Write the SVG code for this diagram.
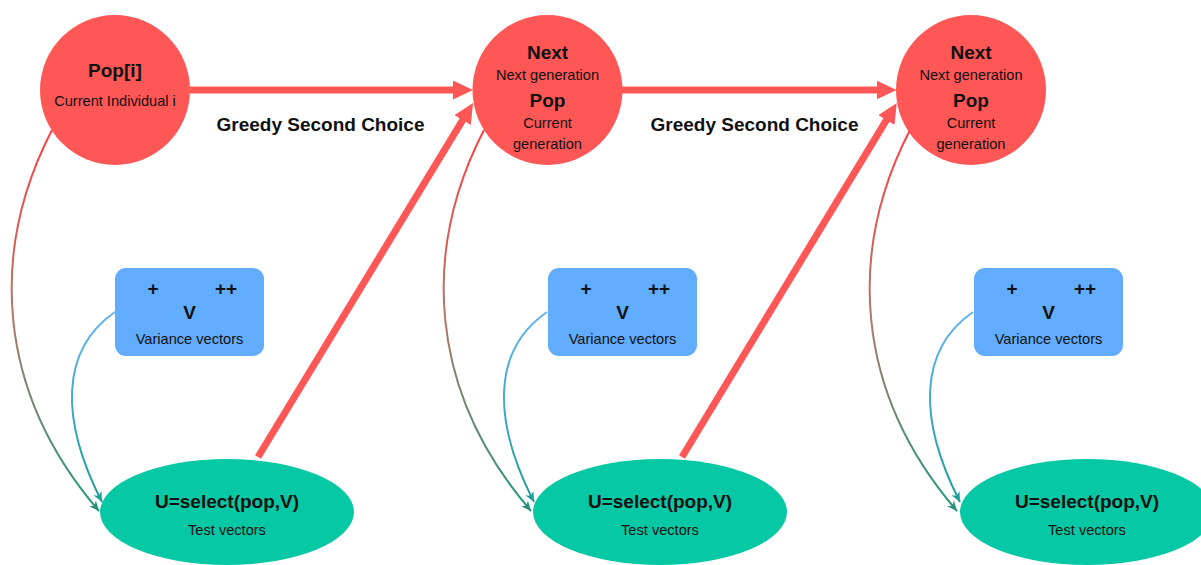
<svg xmlns="http://www.w3.org/2000/svg" width="1201" height="565" viewBox="0 0 1201 565">
  <defs>
    <style>
      .pop { fill: #ff5656; }
      .var { fill: #61acfc; }
      .test { fill: #07c8a4; }
      .b { font-family: "Liberation Sans", Arial, sans-serif; font-weight: bold; font-size: 19px; fill: #111; text-anchor: middle; }
      .r { font-family: "Liberation Sans", Arial, sans-serif; font-size: 14.6px; fill: #111; text-anchor: middle; }
      .thick { stroke: #ff5656; stroke-width: 7; fill: none; marker-end: url(#bigHead); }
      .popLink { stroke: url(#popGrad); stroke-width: 2; fill: none; marker-end: url(#smallHead); }
      .varLink { stroke: url(#varGrad); stroke-width: 2; fill: none; marker-end: url(#smallHead2); }
    </style>
    <marker id="bigHead" markerUnits="userSpaceOnUse" markerWidth="22" markerHeight="20" refX="7" refY="9.5" orient="auto">
      <path d="M0,0 L20,9.5 L0,19 Z" fill="#ff5656"/>
    </marker>
    <marker id="smallHead" markerUnits="userSpaceOnUse" markerWidth="12" markerHeight="10" refX="10" refY="4.5" orient="auto">
      <path d="M0,0 L10,4.5 L0,9 L3,4.5 Z" fill="#2a8f7a"/>
    </marker>
    <marker id="smallHead2" markerUnits="userSpaceOnUse" markerWidth="12" markerHeight="10" refX="10" refY="4.5" orient="auto">
      <path d="M0,0 L10,4.5 L0,9 L3,4.5 Z" fill="#1c9e96"/>
    </marker>
    <linearGradient id="popGrad" gradientUnits="userSpaceOnUse" x1="0" y1="130" x2="0" y2="512">
      <stop offset="0" stop-color="#ff4040"/>
      <stop offset="0.5" stop-color="#b07868"/>
      <stop offset="1" stop-color="#1f9a80"/>
    </linearGradient>
    <linearGradient id="varGrad" gradientUnits="userSpaceOnUse" x1="0" y1="312" x2="0" y2="503">
      <stop offset="0" stop-color="#62b2f4"/>
      <stop offset="1" stop-color="#1a9e98"/>
    </linearGradient>
  </defs>

  <!-- connectors -->
  <g id="connectors">
    <!-- greedy selection to the next population -->
    <line class="thick" x1="190" y1="90" x2="460" y2="90"/>
    <line class="thick" x1="622" y1="90" x2="883.5" y2="90"/>
    <line class="thick" x1="258" y1="457" x2="466.3" y2="114.1"/>
    <line class="thick" x1="682" y1="457" x2="890" y2="114.1"/>

    <!-- population and variance feeding test vectors, one set per column -->
    <g id="col1-links">
      <path class="popLink" d="M52,130 C-10,250 -5,390 99,511"/>
      <path class="varLink" d="M115,312 C60,350 60,420 102,502"/>
    </g>
    <g id="col2-links" transform="translate(432,0)">
      <path class="popLink" d="M52,130 C-10,250 -5,390 99,511"/>
      <path class="varLink" d="M115,312 C60,350 60,420 102,502"/>
    </g>
    <g id="col3-links" transform="translate(858,0)">
      <path class="popLink" d="M52,130 C-10,250 -5,390 99,511"/>
      <path class="varLink" d="M115,312 C60,350 60,420 102,502"/>
    </g>

    <text class="b" x="320.5" y="131">Greedy Second Choice</text>
    <text class="b" x="754.5" y="131">Greedy Second Choice</text>
  </g>

  <!-- population nodes -->
  <g id="pop-i">
    <circle class="pop" cx="115" cy="90" r="75"/>
    <text class="b" x="115" y="77">Pop[i]</text>
    <text class="r" x="115" y="106">Current Individual i</text>
  </g>
  <g id="pop-2">
    <circle class="pop" cx="547.5" cy="90" r="75"/>
    <text class="b" x="547.5" y="59">Next</text>
    <text class="r" x="547.5" y="79.5">Next generation</text>
    <text class="b" x="547.5" y="107">Pop</text>
    <text class="r" x="547.5" y="127.5">Current</text>
    <text class="r" x="547.5" y="149">generation</text>
  </g>
  <g id="pop-3">
    <circle class="pop" cx="971" cy="90" r="75"/>
    <text class="b" x="971" y="59">Next</text>
    <text class="r" x="971" y="79.5">Next generation</text>
    <text class="b" x="971" y="107">Pop</text>
    <text class="r" x="971" y="127.5">Current</text>
    <text class="r" x="971" y="149">generation</text>
  </g>

  <!-- variance vector nodes -->
  <g id="var-1">
    <rect class="var" x="115" y="268" width="149" height="88" rx="11"/>
    <text class="b" x="153" y="295">+</text>
    <text class="b" x="226" y="295">++</text>
    <text class="b" x="189.5" y="319">V</text>
    <text class="r" x="189.5" y="344">Variance vectors</text>
  </g>
  <g id="var-2">
    <rect class="var" x="548" y="268" width="149" height="88" rx="11"/>
    <text class="b" x="586" y="295">+</text>
    <text class="b" x="659" y="295">++</text>
    <text class="b" x="622.5" y="319">V</text>
    <text class="r" x="622.5" y="344">Variance vectors</text>
  </g>
  <g id="var-3">
    <rect class="var" x="974" y="268" width="149" height="88" rx="11"/>
    <text class="b" x="1012" y="295">+</text>
    <text class="b" x="1085" y="295">++</text>
    <text class="b" x="1048.5" y="319">V</text>
    <text class="r" x="1048.5" y="344">Variance vectors</text>
  </g>

  <!-- test vector nodes -->
  <g id="test-1">
    <ellipse class="test" cx="227" cy="512" rx="127" ry="53"/>
    <text class="b" x="227" y="507.5">U=select(pop,V)</text>
    <text class="r" x="227" y="535">Test vectors</text>
  </g>
  <g id="test-2">
    <ellipse class="test" cx="660" cy="512" rx="127" ry="53"/>
    <text class="b" x="660" y="507.5">U=select(pop,V)</text>
    <text class="r" x="660" y="535">Test vectors</text>
  </g>
  <g id="test-3">
    <ellipse class="test" cx="1087" cy="512" rx="127" ry="53"/>
    <text class="b" x="1087" y="507.5">U=select(pop,V)</text>
    <text class="r" x="1087" y="535">Test vectors</text>
  </g>
</svg>
